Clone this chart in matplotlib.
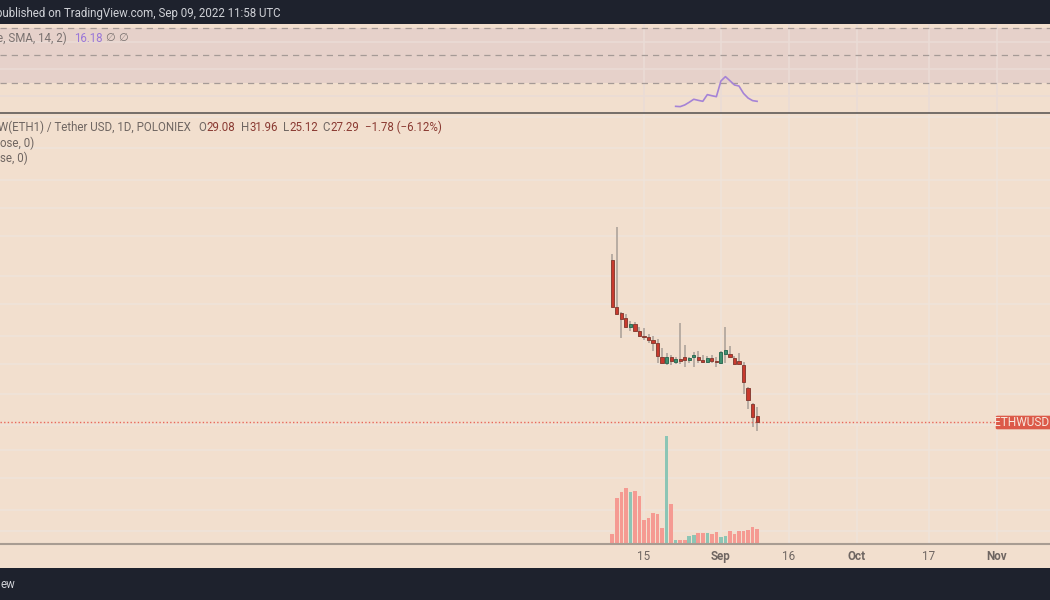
import numpy as np
import matplotlib
matplotlib.use("Agg")
import matplotlib.pyplot as plt
from matplotlib.patches import FancyBboxPatch

plt.rcParams['font.family'] = ['Roboto', 'DejaVu Sans']

# ---- data ----
opens  = [138.4,86.2,81.2,77.2,71.0,72.7,67.8,64.9,64.1,62.2,60.3,52.6,49.4,52.6,50.1,51.4,52.3,50.9,52.3,52.6,51.1,49.7,51.7,50.4,49.4,54.0,53.9,51.7,50.2,48.6,38.5,32.8,29.08]
closes = [86.8,80.9,77.0,71.0,73.0,68.3,64.9,64.1,62.4,60.5,52.8,49.6,52.3,50.4,51.4,50.6,50.9,51.9,53.3,51.1,49.7,51.7,50.4,49.7,55.0,56.3,52.6,49.1,48.7,41.0,34.1,28.9,27.29]
highs  = [146.9,191.8,82.3,80.4,74.9,74.4,70.6,70.1,65.8,64.9,62.6,57.2,54.4,53.5,52.6,73.7,59.1,52.6,55.0,55.7,53.5,53.2,53.3,52.3,55.7,70.8,58.6,53.0,54.8,50.1,38.7,33.1,31.96]
lows   = [86.8,80.1,63.6,70.6,68.0,67.6,64.3,62.2,60.5,55.5,49.2,49.2,48.3,48.4,48.7,48.7,47.6,49.6,47.6,49.6,49.2,49.2,49.6,47.6,48.7,49.2,51.7,48.4,48.3,36.3,31.1,26.1,25.12]
volumes = [28,137,154,165,155,156,143,69,75,92,88,46,322,118,10,9,10,22,24,30,31,32,28,34,19,21,37,27,36,37,41,48,43]
rsi_days = list(range(14, 33))
rsi_ma = [12.5,12.3,13.5,15.5,17.7,16.9,16.2,21.1,20.3,19.6,31.1,34.3,31.3,28.2,27.4,22.0,18.6,16.7,16.18]
tick_days = [7, 24, 39, 54, 70, 85]
tick_labels = ['15', 'Sep', '16', 'Oct', '17', 'Nov']
bold_ticks = ['Sep', 'Oct', 'Nov']
price_grid = [578, 424, 308, 233, 176, 118, 89, 64.7, 48.9, 36.2, 26.6]
volume_grid = [36, 100, 195, 280]
rsi_grid = [20, 40, 60]
rsi_bands = [30, 50, 70]

W, H = 1050, 600
BG = '#f2dfce'; DARK = '#1e222d'; GRID = '#efe4da'
RED = '#c93a2e'; GREEN = '#3f8f6f'; VRED = '#f59a92'; VGREEN = '#8cc5b5'
X0 = 612.3; DX = 4.525
xlim = ((0 - X0) / DX, (W - X0) / DX)

fig = plt.figure(figsize=(W / 100, H / 100), dpi=100, facecolor=BG)

def pane(top, bottom):
    a = fig.add_axes([0, 1 - bottom / H, 1, (bottom - top) / H], facecolor='none')
    a.set_xlim(*xlim)
    a.set_xticks([]); a.set_yticks([])
    for s in a.spines.values():
        s.set_visible(False)
    return a

days = np.arange(len(opens))

# ---- price pane ----
TOP, BOT = 114, 544
K = 100.0
ax = pane(TOP, BOT)
ax.set_yscale('log')
ax.set_ylim(27.29 * np.exp((422.3 - BOT) / K), 27.29 * np.exp((422.3 - TOP) / K))
ax.minorticks_off(); ax.set_yticks([])
for g in price_grid:
    ax.axhline(g, color=GRID, lw=1.1, zorder=1)
for d in tick_days:
    ax.axvline(d, color=GRID, lw=1.1, zorder=1)
for d, o, c, h, l in zip(days, opens, closes, highs, lows):
    col = GREEN if c >= o else RED
    ax.plot([d, d], [l, h], color='#a89e96', lw=1.1, zorder=2, solid_capstyle='butt')
    ax.bar(d, abs(c - o), bottom=min(o, c), width=0.7, color=col,
           edgecolor='#8a4036' if col == RED else '#2f6d55', lw=0.7, zorder=3)
ax.axhline(closes[-1], color='#e8675c', lw=1.0, ls=(0, (1, 1.6)), zorder=2)

# ---- volume pane ----
vax = pane(430, 543.5)
vax.set_ylim(0, 340)
for g in volume_grid:
    vax.axhline(g, color=GRID, lw=1.1, zorder=1)
vcols = [VGREEN if c >= o else VRED for o, c in zip(opens, closes)]
vax.bar(days, volumes, width=0.8, color=vcols, zorder=3)

# ---- rsi pane ----
rax = pane(24, 112.5)
rax.set_ylim(30 - (112.5 - 82.5) / 1.3625, 30 + (82.5 - 24) / 1.3625)
rax.axhspan(rsi_bands[0], rsi_bands[2], color='#e6d1ca', zorder=0, lw=0)
for g in rsi_grid:
    rax.axhline(g, color='#eadcd6', lw=1.1, zorder=1)
for d in tick_days:
    rax.axvline(d, color='#eadcd6', lw=1.1, zorder=1)
for b in rsi_bands:
    rax.axhline(b, color='#a59a96', lw=0.9, ls=(0, (5, 4)), zorder=2)
rax.plot(rsi_days, rsi_ma, color='#a583d6', lw=1.2, zorder=3)

# ---- frame (figure pixel coordinates) ----
over = fig.add_axes([0, 0, 1, 1], facecolor='none')
over.set_xlim(0, W); over.set_ylim(H, 0); over.axis('off')
over.fill_between([0, W], 0, 24, color=DARK, lw=0)
over.fill_between([0, W], 568, 600, color=DARK, lw=0)
over.plot([0, W], [112.7, 112.7], color='#5f5a58', lw=1.2)
over.plot([0, W], [544, 544], color='#a89c92', lw=1.5)
over.add_patch(FancyBboxPatch((995.7, 415.7), 60, 13.6, boxstyle='round,pad=0,rounding_size=1.5',
                              fc='#dc5a49', ec='none'))
FS = 8.3
over.text(1049, 423, 'ETHWUSD', color='#f7e6dc', fontsize=8.6, va='center', ha='right')

over.text(280.5, 14, 'published on TradingView.com, Sep 09, 2022 11:58 UTC', color='#cfd1d6', fontsize=FS, va='center', ha='right')
over.text(67, 38.3, 'e, SMA, 14, 2)', color='#7a7270', fontsize=FS, va='center', ha='right')
over.text(74, 38.3, '16.18', color='#9a77d8', fontsize=FS, va='center')
over.text(110, 38.3, '\u2205', color='#7a7270', fontsize=8, va='center', ha='center')
over.text(123, 38.3, '\u2205', color='#7a7270', fontsize=8, va='center', ha='center')

y = 127.3
over.text(191, y, 'W(ETH1) / Tether USD, 1D, POLONIEX', color='#6f6662', fontsize=FS, va='center', ha='right')
ohlc = [(198, 'O', '29.08'), (241, 'H', '31.96'), (283, 'L', '25.12'), (322.5, 'C', '27.29')]
offs = {'O': 8, 'H': 8.5, 'L': 6.8, 'C': 7.8}
for x, k, v in ohlc:
    over.text(x, y, k, color='#6f6662', fontsize=FS, va='center')
    over.text(x + offs[k], y, v, color='#8a3a32', fontsize=FS, va='center')
over.text(365, y, '\u22121.78 (\u22126.12%)', color='#8a3a32', fontsize=FS, va='center')
over.text(34.3, 143, 'ose, 0)', color='#6f6662', fontsize=FS, va='center', ha='right')
over.text(27.7, 158.3, 'se, 0)', color='#6f6662', fontsize=FS, va='center', ha='right')

for d, lab in zip(tick_days, tick_labels):
    bold = lab in bold_ticks
    over.text(X0 + DX * d, 556.3, lab, ha='center', va='center', fontsize=8.4,
              color='#6f6662', fontweight='bold' if bold else 'normal')
over.text(15, 585, 'ew', color='#cfd1d6', fontsize=FS, va='center', ha='right')

fig.savefig('out.png', dpi=100, facecolor=BG)
